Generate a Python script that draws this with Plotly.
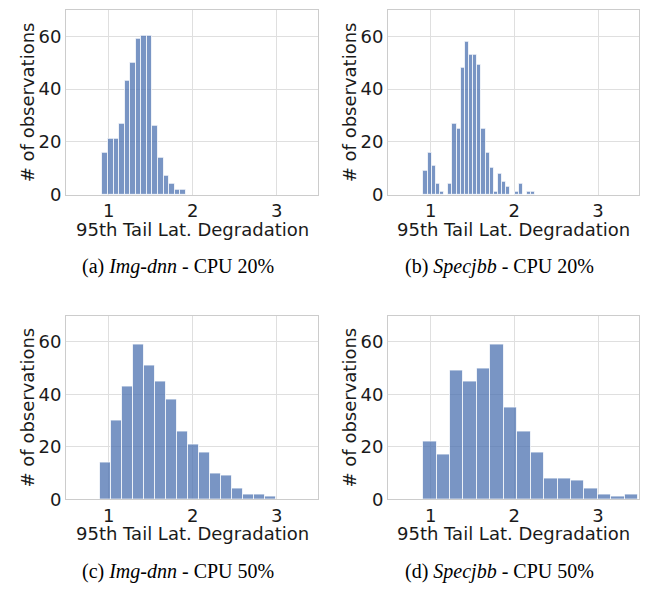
import plotly.graph_objects as go

# ---- data ----
# (a) Img-dnn CPU 20%
a_start, a_width = 0.924, 0.0661
a_counts = [16, 21, 21, 27, 43, 50, 59, 60, 60, 26, 14, 7, 4, 2, 2]
# (b) Specjbb CPU 20%
b_start, b_width = 0.913, 0.0495
b_counts = [9, 16, 11, 4, 1, 0, 4, 27, 25, 48, 58, 53, 53, 49, 25, 16, 10, 1, 8, 5, 3, 0, 1, 4, 0, 1, 1]
# (c) Img-dnn CPU 50%
c_start, c_width = 0.900, 0.1303
c_counts = [14, 30, 43, 59, 51, 45, 38, 26, 21, 18, 10, 9, 4, 2, 2, 1]
# (d) Specjbb CPU 50%
d_start, d_width = 0.909, 0.1607
d_counts = [22, 17, 49, 45, 50, 59, 35, 26, 18, 8, 8, 7, 4, 2, 1, 2]

x_ticks = [1, 2, 3]
y_ticks = [0, 20, 40, 60]
x_title = "95th Tail Lat. Degradation"
y_title = "# of observations"
captions = [
    "(a) <i>Img-dnn</i> - CPU 20%",
    "(b) <i>Specjbb</i> - CPU 20%",
    "(c) <i>Img-dnn</i> - CPU 50%",
    "(d) <i>Specjbb</i> - CPU 50%",
]

panels = [
    (a_start, a_width, a_counts),
    (b_start, b_width, b_counts),
    (c_start, c_width, c_counts),
    (d_start, d_width, d_counts),
]

W, H = 648, 592
# pixel layout of the four plot areas: (left, right, top, bottom)
boxes = [
    (66, 318, 10, 198),
    (388, 639, 10, 198),
    (66, 318, 321, 508),
    (388, 639, 321, 508),
]

fig = go.Figure()
tick_font = dict(family="DejaVu Sans", size=18, color="#1a1a1a")
annotations = []

for i, ((start, width, counts), (l, r, t, b)) in enumerate(zip(panels, boxes)):
    n = i + 1
    xs = [start + width * (k + 0.5) for k in range(len(counts))]
    fig.add_trace(go.Bar(
        x=xs, y=counts, width=[width] * len(counts),
        marker=dict(color="rgba(76,114,176,0.75)",
                    line=dict(color="rgba(255,255,255,0.75)", width=1)),
        xaxis=f"x{n}", yaxis=f"y{n}", showlegend=False, hoverinfo="skip",
    ))
    xd = [l / W, r / W]
    yd = [1 - b / H, 1 - t / H]
    ax = dict(domain=xd, range=[0.49, 3.49], tickvals=x_ticks,
              showgrid=True, gridcolor="#dfdfdf", gridwidth=1,
              showline=True, linecolor="#cccccc", linewidth=1, mirror=True,
              zeroline=False, ticks="", tickfont=tick_font,
              anchor=f"y{n}", fixedrange=True)
    ay = dict(domain=yd, range=[0, 70], tickvals=y_ticks,
              showgrid=True, gridcolor="#dfdfdf", gridwidth=1,
              showline=True, linecolor="#cccccc", linewidth=1, mirror=True,
              zeroline=False, ticks="", tickfont=tick_font,
              anchor=f"x{n}", fixedrange=True)
    fig.layout[f"xaxis{n}"] = ax
    fig.layout[f"yaxis{n}"] = ay

    cx = (l + r) / 2
    annotations.append(dict(
        text=x_title, x=cx / W, y=1 - (b + 35) / H, xref="paper", yref="paper",
        xanchor="center", yanchor="middle", showarrow=False,
        font=dict(family="DejaVu Sans", size=18, color="#1a1a1a")))
    annotations.append(dict(
        text=y_title, x=(l - 39) / W, y=1 - ((t + b) / 2) / H, xref="paper", yref="paper",
        xanchor="center", yanchor="middle", showarrow=False, textangle=-90,
        font=dict(family="DejaVu Sans", size=18, color="#1a1a1a")))
    annotations.append(dict(
        text=captions[i], x=(cx - 14) / W, y=1 - (b + 73) / H, xref="paper", yref="paper",
        xanchor="center", yanchor="middle", showarrow=False,
        font=dict(family="Liberation Serif", size=20, color="#000000")))

fig.update_layout(
    width=W, height=H, margin=dict(l=0, r=0, t=0, b=0),
    paper_bgcolor="white", plot_bgcolor="white",
    bargap=0, annotations=annotations, showlegend=False,
)

fig.write_html("out.html", config={"displayModeBar": False})
